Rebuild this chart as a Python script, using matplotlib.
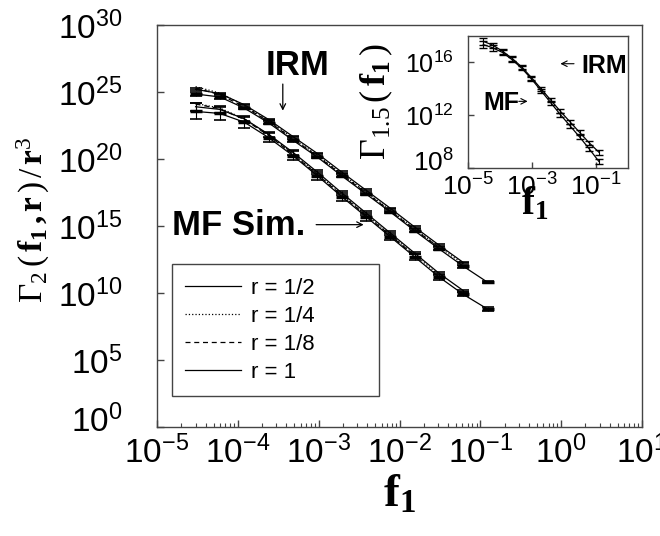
import matplotlib
matplotlib.use("Agg")
import matplotlib.pyplot as plt
from matplotlib.ticker import FixedLocator, FixedFormatter, NullLocator, LogLocator
from matplotlib.transforms import ScaledTranslation
import numpy as np

plt.rcParams['font.family'] = ['Liberation Sans', 'DejaVu Sans']
plt.rcParams['mathtext.fontset'] = 'custom'
plt.rcParams['mathtext.rm'] = 'Liberation Serif'
plt.rcParams['mathtext.bf'] = 'Liberation Serif:bold'
plt.rcParams['mathtext.sf'] = 'Liberation Sans'
plt.rcParams['mathtext.it'] = 'Liberation Serif:italic'

# bin centres f1 (same for every curve)
f1 = [3.0e-5, 6.0e-5, 1.2e-4, 2.4e-4, 4.8e-4, 9.6e-4, 1.92e-3,
      3.84e-3, 7.68e-3, 1.536e-2, 3.072e-2, 6.144e-2, 1.229e-1]

# log10 of Gamma_2(f1, r) / r^3, IRM model
irm_r1 = [24.85, 24.63, 23.80, 22.70, 21.40, 20.15, 18.75, 17.40, 16.05, 14.65, 13.30, 12.00, 10.80]
irm_r2 = [25.20, 24.88, 24.05, 22.95, 21.68, 20.42, 19.03, 17.68, 16.33, 14.93, 13.58, 12.28]
irm_r4 = [25.40, 24.92, 24.00, 22.85, 21.55, 20.28, 18.90, 17.55, 16.20, 14.80, 13.45, 12.15]
irm_r8 = [25.30, 24.80, 23.90, 22.80, 21.50, 20.22, 18.84, 17.48, 16.12, 14.74, 13.40]
irm_err = [0.15, 0.12, 0.10, 0.10, 0.10, 0.10, 0.10, 0.10, 0.10, 0.10, 0.10, 0.10, 0.06]

# log10 of Gamma_2(f1, r) / r^3, mean-field simulation
mf_r1 = [23.55, 23.40, 22.75, 21.60, 20.25, 18.75, 17.20, 15.70, 14.20, 12.70, 11.20, 9.90, 8.80]
mf_r2 = [23.90, 23.70, 23.00, 21.85, 20.50, 19.03, 17.48, 15.98, 14.48, 12.98, 11.48, 10.18]
mf_r4 = [24.15, 23.80, 23.00, 21.80, 20.40, 18.90, 17.35, 15.85, 14.35, 12.85, 11.35]
mf_r8 = [24.10, 23.75, 22.95, 21.75, 20.35, 18.85, 17.30, 15.80, 14.30, 12.80]
mf_err = [0.60, 0.50, 0.40, 0.35, 0.35, 0.30, 0.30, 0.30, 0.25, 0.20, 0.20, 0.15, 0.12]

# inset: log10 Gamma_1.5(f1)
in_irm = [17.60, 17.30, 16.85, 16.30, 15.65, 14.85, 14.00, 13.15, 12.30, 11.50, 10.70, 9.90, 9.20]
in_mf = [17.35, 17.10, 16.75, 16.20, 15.55, 14.75, 13.85, 12.95, 12.05, 11.20, 10.35, 9.45, 8.50]
in_err = [0.25, 0.20, 0.18, 0.18, 0.15, 0.15, 0.15, 0.15, 0.15, 0.15, 0.15, 0.15, 0.20]

r_labels = ['r = 1/2', 'r = 1/4', 'r = 1/8', 'r = 1']

x_ticks = [1e-5, 1e-4, 1e-3, 1e-2, 1e-1, 1e0, 1e1]
x_ticklabels = [r'$\mathsf{10^{-5}}$', r'$\mathsf{10^{-4}}$', r'$\mathsf{10^{-3}}$', r'$\mathsf{10^{-2}}$',
                r'$\mathsf{10^{-1}}$', r'$\mathsf{10^{0}}$', r'$\mathsf{10^{1}}$']
y_ticks = [1e0, 1e5, 1e10, 1e15, 1e20, 1e25, 1e30]
y_ticklabels = [r'$\mathsf{10^{0}}$', r'$\mathsf{10^{5}}$', r'$\mathsf{10^{10}}$', r'$\mathsf{10^{15}}$',
                r'$\mathsf{10^{20}}$', r'$\mathsf{10^{25}}$', r'$\mathsf{10^{30}}$']
in_x_ticks = [1e-5, 1e-3, 1e-1]
in_x_ticklabels = [r'$\mathsf{10^{-5}}$', r'$\mathsf{10^{-3}}$', r'$\mathsf{10^{-1}}$']
in_y_ticks = [1e8, 1e12, 1e16]
in_y_ticklabels = [r'$\mathsf{10^{8}}$', r'$\mathsf{10^{12}}$', r'$\mathsf{10^{16}}$']

spine_col = '#444444'


def pw(vals):
    return 10.0 ** np.array(vals)


def err_pair(vals, errs):
    y = pw(vals)
    e = np.array(errs[:len(vals)])
    return y, [y - y * 10.0 ** (-e), y * 10.0 ** e - y]


def style_axes(ax, length):
    for s in ax.spines.values():
        s.set_color(spine_col)
        s.set_linewidth(1.0)
    ax.tick_params(which='both', direction='in', color=spine_col, top=False, right=False)
    ax.tick_params(which='major', length=length, width=1.0)
    ax.tick_params(which='minor', length=length * 0.6, width=0.8)


def nudge_up(label, px):
    label.set_transform(label.get_transform() + ScaledTranslation(0, px / 100, fig.dpi_scale_trans))


fig = plt.figure(figsize=(6.6, 5.36), dpi=100)
ax = fig.add_axes([157 / 660, 1 - 427 / 536, 485 / 660, 402 / 536])

lw = 0.9
for group, err in ((('irm', irm_r2, irm_r4, irm_r8, irm_r1), irm_err),
                   (('mf', mf_r2, mf_r4, mf_r8, mf_r1), mf_err)):
    name, c2, c4, c8, c1 = group
    h2 = ax.plot(f1[:len(c2)], pw(c2), '-', color='k', lw=lw)[0]
    h4 = ax.plot(f1[:len(c4)], pw(c4), ':', color='k', lw=lw)[0]
    h8 = ax.plot(f1[:len(c8)], pw(c8), '--', dashes=(4, 3), color='k', lw=lw)[0]
    h1 = ax.plot(f1, pw(c1), '-', color='k', lw=lw)[0]
    y, yerr = err_pair(c1, err)
    ax.errorbar(f1, y, yerr=yerr, fmt='none', ecolor='k', elinewidth=0.8, capsize=4, capthick=1.2)
    y2, yerr2 = err_pair(c2, [e * 0.5 for e in err])
    ax.errorbar(f1[:len(c2)], y2, yerr=yerr2, fmt='none', ecolor='k', elinewidth=0.8, capsize=4, capthick=1.2)
    ax.plot(f1, pw(c1), linestyle='none', marker='_', markersize=9, mew=2.5, color='k')
    handles = [h2, h4, h8, h1]

ax.set_xscale('log')
ax.set_yscale('log')
ax.set_xlim(1e-5, 1e1)
ax.set_ylim(1e0, 1e30)
ax.xaxis.set_major_locator(FixedLocator(x_ticks))
ax.xaxis.set_major_formatter(FixedFormatter(x_ticklabels))
ax.xaxis.set_minor_locator(LogLocator(base=10, subs=np.arange(2, 10), numticks=20))
ax.yaxis.set_major_locator(FixedLocator(y_ticks))
ax.yaxis.set_major_formatter(FixedFormatter(y_ticklabels))
ax.yaxis.set_minor_locator(NullLocator())
style_axes(ax, 5)
ax.tick_params(axis='x', labelsize=24, pad=6)
ax.tick_params(axis='y', labelsize=24, pad=25)
for lab in ax.get_yticklabels():
    if lab.get_text() == y_ticklabels[0]:
        nudge_up(lab, 9)

ax.set_xlabel(r'$\mathbf{f}_{\mathbf{1}}$', fontsize=34, labelpad=2)
fig.text(33 / 660, 1 - 220 / 536,
         r'$\Gamma_{2}\,(\,\mathbf{f}_{\mathbf{1}}\,\mathbf{,}\,\mathbf{r}\,)\,/\,\mathbf{r}^{3}$',
         rotation=90, fontsize=24, ha='center', va='center')

leg = ax.legend(handles, r_labels, loc='upper left', mode='expand',
                bbox_to_anchor=(0.031, 0.082, 0.427, 0.323), borderaxespad=0, fontsize=16,
                handlelength=2.5, handletextpad=0.45, labelspacing=0.32,
                borderpad=0.6, fancybox=False, framealpha=1)
leg.get_frame().set_edgecolor(spine_col)
leg.get_frame().set_linewidth(1.0)

ax.text(298 / 660, 1 - 75 / 536, 'IRM', transform=fig.transFigure, fontsize=25,
        fontweight='bold', ha='center', va='baseline')
ax.annotate('', xy=(3.6e-4, 10 ** 23.4), xytext=(3.6e-4, 10 ** 25.8),
            arrowprops=dict(arrowstyle='->', color='k', lw=0.9))
ax.text(172 / 660, 1 - 235 / 536, 'MF Sim.', transform=fig.transFigure, fontsize=25,
        fontweight='bold', ha='left', va='baseline')
ax.annotate('', xy=(3.9e-3, 10 ** 15.1), xytext=(8.6e-4, 10 ** 15.1),
            arrowprops=dict(arrowstyle='->', color='k', lw=0.9))

# inset
ins = fig.add_axes([468 / 660, 1 - 168 / 536, 160 / 660, 132 / 536])
y, yerr = err_pair(in_irm, in_err)
ins.errorbar(f1, y, yerr=yerr, fmt='-', color='k', lw=0.9, elinewidth=0.8, capsize=3, capthick=1.0)
y, yerr = err_pair(in_mf, in_err)
ins.errorbar(f1, y, yerr=yerr, fmt='-', color='k', lw=0.9, elinewidth=0.8, capsize=3, capthick=1.0)
ins.set_xscale('log')
ins.set_yscale('log')
ins.set_xlim(1e-5, 1e0)
ins.set_ylim(1e8, 1e18)
ins.xaxis.set_major_locator(FixedLocator(in_x_ticks))
ins.xaxis.set_major_formatter(FixedFormatter(in_x_ticklabels))
ins.xaxis.set_minor_locator(NullLocator())
ins.yaxis.set_major_locator(FixedLocator(in_y_ticks))
ins.yaxis.set_major_formatter(FixedFormatter(in_y_ticklabels))
ins.yaxis.set_minor_locator(NullLocator())
style_axes(ins, 4)
ins.tick_params(axis='x', labelsize=19, pad=4)
ins.tick_params(axis='y', labelsize=18, pad=10)
for lab in ins.get_yticklabels():
    if lab.get_text() == in_y_ticklabels[0]:
        lab.set_fontsize(19)
        nudge_up(lab, 8)

fig.text(376 / 660, 1 - 102 / 536, r'$\Gamma_{1.5}\,(\,\mathbf{f}_{\mathbf{1}}\,)$',
         rotation=90, fontsize=26, ha='center', va='center')
fig.text(535 / 660, 1 - 214 / 536, r'$\mathbf{f}_{\mathbf{1}}$', fontsize=28,
         ha='center', va='baseline')

ins.text(627 / 660, 1 - 73 / 536, 'IRM', transform=fig.transFigure, fontsize=18,
         fontweight='bold', ha='right', va='baseline')
ins.annotate('', xy=(0.56, 0.79), xytext=(0.68, 0.79), xycoords='axes fraction',
             arrowprops=dict(arrowstyle='->', color='k', lw=0.8))
ins.text(483 / 660, 1 - 110 / 536, 'MF', transform=fig.transFigure, fontsize=18,
         fontweight='bold', ha='left', va='baseline')
ins.annotate('', xy=(0.39, 0.505), xytext=(0.3, 0.505), xycoords='axes fraction',
             arrowprops=dict(arrowstyle='->', color='k', lw=0.8))

fig.savefig('out.png', dpi=100)
